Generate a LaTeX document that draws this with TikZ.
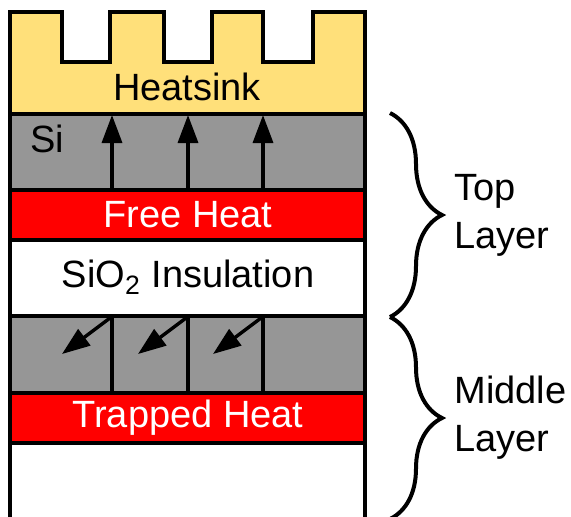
\documentclass[tikz,border=0pt]{standalone}
\usepackage{fontspec}
\setmainfont{Liberation Sans}
\usetikzlibrary{arrows.meta, decorations.pathreplacing}
\definecolor{sinkyellow}{RGB}{255, 224, 122}
\definecolor{silgray}{RGB}{150, 150, 150}
\definecolor{heatred}{RGB}{255, 0, 0}

\begin{document}
\begin{tikzpicture}[x=0.5pt, y=-0.5pt,
        layer/.style = {draw, line width=1.7pt},
        layertext/.style = {font=\fontsize{19}{24}\selectfont, inner sep=0pt},
        heat/.style = {line width=1.7pt, -{Triangle[length=14pt, width=10pt]}},
        bracket/.style = {line width=2pt, decorate, decoration={brace, amplitude=26pt}}
    ]
        \useasboundingbox (0,0) rectangle (571,516);
        \clip (0,0) rectangle (571,516);

        % Layers
        \draw [layer, fill=sinkyellow] (10,114) -- (10,12) -- (62,12) -- (62,62) -- (110,62) -- (110,12) -- (164,12) -- (164,62) -- (212,62) -- (212,12) -- (263,12) -- (263,62) -- (313,62) -- (313,12) -- (365,12) -- (365,114) -- cycle;
        \draw [layer, fill=silgray] (10,114) rectangle (365,190);
        \draw [layer, fill=heatred] (10,190) rectangle (365,240);
        \draw [layer] (10,240) rectangle (365,316);
        \draw [layer, fill=silgray] (10,316) rectangle (365,393);
        \draw [layer, fill=heatred] (10,393) rectangle (365,443);
        \draw [layer] (10,443) -- (10,530) (365,443) -- (365,530);

        % Cells in the middle silicon
        \draw [layer] (112,316) -- (112,393);
        \draw [layer] (188,316) -- (188,393);
        \draw [layer] (263,316) -- (263,393);

        % Heat flow
        \draw [heat] (112,190) -- (112,115);
        \draw [heat] (188,190) -- (188,115);
        \draw [heat] (263,190) -- (263,115);
        \draw [heat] (110,318) -- (62,354);
        \draw [heat] (186,318) -- (138,354);
        \draw [heat] (261,318) -- (213,354);

        % Texts
        \node [layertext] (sink) at (187,87) {Heatsink};
        \node [layertext] (si) at (47,139) {Si};
        \node [layertext, text=white] (free) at (188,215) {Free Heat};
        \node [layertext] (oxide) at (188,277) {SiO\textsubscript{2} Insulation};
        \node [layertext, text=white] (trapped) at (188,418) {Trapped Heat};

        % Braces
        \draw [bracket] (390,113) -- (390,317);
        \draw [bracket] (390,317) -- (390,519);
        \node [layertext, align=left, anchor=west] (top) at (454,215) {Top\\Layer};
        \node [layertext, align=left, anchor=west] (middle) at (454,418) {Middle\\Layer};
    \end{tikzpicture}
\end{document}
